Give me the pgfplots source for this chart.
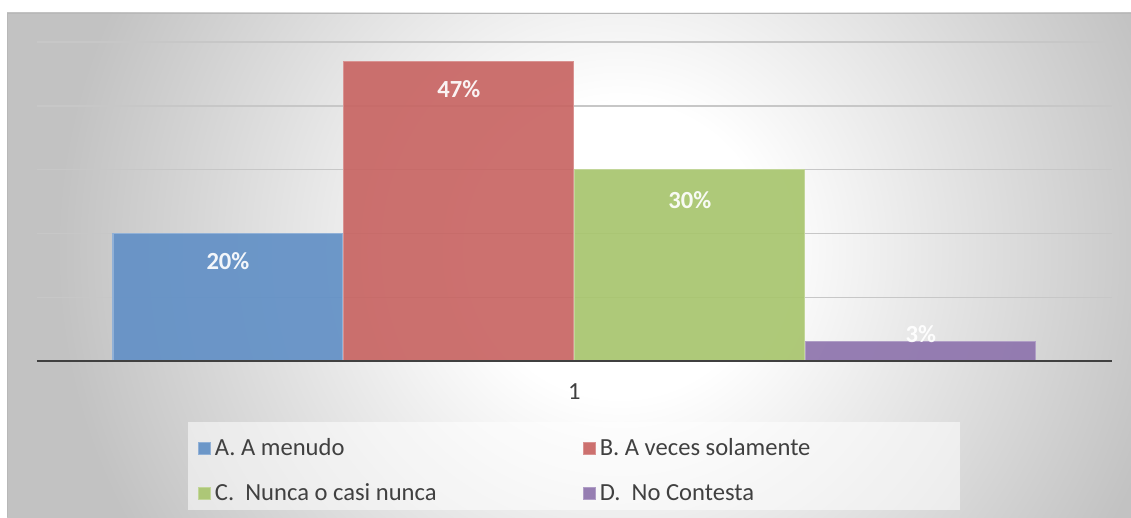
\documentclass[border=0pt]{standalone}
\usepackage{pgfplots}
\pgfplotsset{compat=1.18}
\usepackage{fontspec}
\setmainfont{Carlito}
\definecolor{bgout}{HTML}{C2C2C2}
\definecolor{barblue}{HTML}{6290C6}
\definecolor{barred}{HTML}{C86563}
\definecolor{bargreen}{HTML}{A8C56E}
\definecolor{barpurple}{HTML}{8E74AD}
\definecolor{txt}{HTML}{404040}
\pgfdeclareradialshading{bgshade}{\pgfpoint{0bp}{0bp}}{color(0bp)=(white); color(6bp)=(white); color(23bp)=(bgout); color(50bp)=(bgout)}
\begin{document}
\begin{tikzpicture}[x=0.02cm,y=0.02cm]
\useasboundingbox (0,0) rectangle (1131,517);
\fill[white] (0,0) rectangle (1131,517);
\begin{scope}
\clip (7,0) rectangle (1131,504);
\fill[bgout] (7,0) rectangle (1131,504);
\shade[shading=bgshade] (7,-346) rectangle (1233,880);
\end{scope}
\draw[black!28, line width=0.6pt] (7.5,0) -- (7.5,503.7) -- (1131,503.7);
\fill[white, opacity=0.55] (188,7) rectangle (960,95);
\begin{axis}[
  at={(0.74cm,3.12cm)}, anchor=south west,
  scale only axis, width=21.5cm, height=6.38cm,
  xmin=-0.8268, xmax=3.8268, ymin=0, ymax=50,
  ybar, bar width=4.6cm,
  axis line style={draw=none},
  ytick={10,20,30,40,50}, yticklabels={},
  ymajorgrids, grid style={black!22, line width=0.8pt},
  major tick length=0pt,
  xtick={1.5}, xticklabels={1},
  xticklabel style={font=\fontsize{14}{16}\selectfont, text=txt, yshift=-0.32cm},
  /pgf/number format/assume math mode=true,
  nodes near coords={\pgfmathprintnumber{\pgfplotspointmeta}\%},
  nodes near coords style={font=\bfseries\fontsize{14}{16}\selectfont, text=white, anchor=center},
  legend columns=2,
  legend style={draw=none, fill=none, at={(axis description cs:0.1498,-0.232)}, anchor=north west,
    font=\fontsize{14}{16}\selectfont, text=txt, inner sep=0pt,
    row sep=0.36cm,
    /tikz/every even column/.append style={column sep=2.86cm}},
  legend cell align=left,
  legend image code/.code={\fill[#1] (0cm,-0.12cm) rectangle (0.24cm,0.12cm);},
]
\addplot[fill=barblue, draw=barblue!70!white, line width=0.6pt, fill opacity=0.92, bar shift=0pt,
  every node near coord/.append style={yshift=-0.56cm}] coordinates {(0,20)};
\addlegendentry{A. A menudo}
\addplot[fill=barred, draw=barred!70!white, line width=0.6pt, fill opacity=0.92, bar shift=0pt,
  every node near coord/.append style={yshift=-0.56cm}] coordinates {(1,47)};
\addlegendentry{B. A veces solamente}
\addplot[fill=bargreen, draw=bargreen!70!white, line width=0.6pt, fill opacity=0.92, bar shift=0pt,
  every node near coord/.append style={yshift=-0.6cm}] coordinates {(2,30)};
\addlegendentry{C.\ \ Nunca o casi nunca}
\addplot[fill=barpurple, draw=barpurple!70!white, line width=0.6pt, fill opacity=0.92, bar shift=0pt,
  every node near coord/.append style={yshift=0.16cm}] coordinates {(3,3)};
\addlegendentry{D.\ \ No Contesta}
\draw[txt, line width=1.7pt] (rel axis cs:0,0) -- (rel axis cs:1,0);
\end{axis}
\end{tikzpicture}
\end{document}
